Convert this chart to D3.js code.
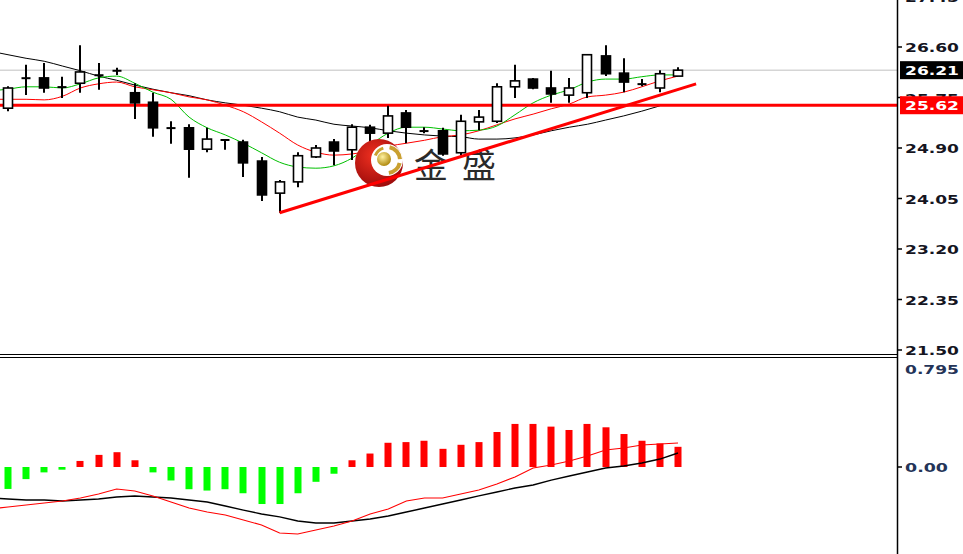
<!DOCTYPE html>
<html><head><meta charset="utf-8">
<script src="https://cdn.jsdelivr.net/npm/d3@7"></script>
<style>body{margin:0;background:#fff;overflow:hidden}svg{display:block}</style>
</head><body><svg id="c" width="963" height="554"></svg>
<script>
// ---- data ----
const opens  = [25.57,26.08,26.08,25.93,25.99,26.13,26.19,25.83,25.67,25.24,25.24,24.88,25.04,25.00,24.68,24.14,24.33,24.75,25.00,24.87,25.25,25.15,25.49,25.19,25.19,24.82,25.34,25.35,25.93,26.06,25.91,25.79,25.83,26.45,26.16,25.99,25.91,26.11];
const highs  = [25.94,26.30,26.33,26.10,26.63,26.33,26.25,25.99,25.83,25.35,25.30,25.24,25.05,25.04,24.75,24.36,24.83,24.95,25.05,25.30,25.29,25.61,25.54,25.25,25.24,25.46,25.54,25.99,26.30,26.08,26.20,26.08,26.48,26.63,26.41,26.06,26.21,26.26];
const lows   = [25.52,25.79,25.83,25.74,25.83,25.88,26.13,25.39,25.09,24.97,24.40,24.83,24.87,24.41,24.01,23.81,24.24,24.73,24.61,24.70,24.87,25.07,24.98,25.15,24.77,24.78,25.20,25.32,25.74,25.89,25.66,25.66,25.74,26.11,25.84,25.94,25.84,26.11];
const closes = [25.91,26.07,25.91,25.92,26.18,26.12,26.21,25.66,25.24,25.23,24.88,25.05,25.03,24.65,24.11,24.33,24.77,24.90,24.85,25.25,25.15,25.44,25.25,25.18,24.80,25.35,25.42,25.93,26.03,25.91,25.81,25.91,26.47,26.15,26.01,25.96,26.15,26.21];
// indicator lines start one bar before the first visible candle (index -1)
const maFast = [25.86,25.89,25.93,25.93,25.91,25.98,26.08,26.11,25.99,25.84,25.72,25.42,25.24,25.12,24.98,24.82,24.66,24.58,24.56,24.60,24.73,24.95,25.15,25.25,25.25,25.22,25.19,25.20,25.27,25.46,25.66,25.79,25.88,26.01,26.06,26.06,26.10,26.13,26.13];
const maMid  = [25.72,25.72,25.72,25.71,25.77,25.91,25.98,26.01,25.93,25.88,25.83,25.76,25.71,25.62,25.51,25.34,25.15,24.95,24.83,24.78,24.80,24.85,24.93,24.98,25.03,25.09,25.12,25.19,25.29,25.39,25.47,25.56,25.64,25.76,25.79,25.84,25.93,26.03,26.11];
const maSlow = [26.53,26.47,26.41,26.36,26.28,26.20,26.11,26.04,25.96,25.89,25.83,25.78,25.71,25.66,25.62,25.57,25.51,25.42,25.37,25.30,25.27,25.24,25.19,25.15,25.12,25.10,25.09,25.05,25.05,25.07,25.12,25.19,25.25,25.30,25.37,25.44,25.52,25.61,null];
const macdHist = [-0.163,-0.09,-0.04,-0.02,0.045,0.09,0.11,0.05,-0.04,-0.10,-0.165,-0.175,-0.165,-0.195,-0.275,-0.275,-0.195,-0.11,-0.05,0.05,0.10,0.18,0.185,0.195,0.135,0.165,0.185,0.26,0.32,0.32,0.30,0.275,0.32,0.295,0.245,0.195,0.175,0.15];
const macdMain = [-0.230,-0.238,-0.245,-0.245,-0.253,-0.245,-0.238,-0.223,-0.215,-0.223,-0.230,-0.245,-0.260,-0.290,-0.320,-0.349,-0.371,-0.401,-0.416,-0.416,-0.401,-0.386,-0.364,-0.334,-0.305,-0.275,-0.245,-0.215,-0.186,-0.156,-0.134,-0.097,-0.067,-0.037,-0.007,0.007,0.030,0.059,0.104];
const macdSignal = [-0.312,-0.297,-0.282,-0.267,-0.253,-0.230,-0.201,-0.163,-0.178,-0.215,-0.260,-0.305,-0.334,-0.357,-0.394,-0.431,-0.490,-0.498,-0.468,-0.438,-0.401,-0.349,-0.312,-0.253,-0.230,-0.230,-0.201,-0.171,-0.126,-0.074,-0.007,0.015,0.045,0.082,0.126,0.141,0.163,0.171,0.178];
const priceTicks = [27.45,26.60,25.75,24.90,24.05,23.20,22.35,21.50];
const macdTicks = [0.795,0.00];
const lastPrice = 26.21;
const supportLevel = 25.62;
const trendIdx = [15,38];
const trendPrice = [23.81,25.98];
const watermark = "金 盛";

// ---- drawing ----
const svg = d3.select("#c");
const axisX = 897;
const n = closes.length;
const x = d3.scaleLinear().domain([0, n-1]).range([8, 678]);
const y = d3.scaleLinear().domain([21.50, 26.60]).range([350, 47]);
const ym = d3.scaleLinear().domain([0, 0.795]).range([467, 360]);
const fmt = d3.format(".2f");

const defs = svg.append("defs");
defs.append("clipPath").attr("id","mainClip").append("rect").attr("x",0).attr("y",0).attr("width",axisX).attr("height",354);
defs.append("clipPath").attr("id","macdClip").append("rect").attr("x",0).attr("y",358).attr("width",axisX).attr("height",196);
const rg = defs.append("radialGradient").attr("id","redG").attr("cx","40%").attr("cy","35%").attr("r","70%");
rg.append("stop").attr("offset","0%").attr("stop-color","#f03020");
rg.append("stop").attr("offset","100%").attr("stop-color","#9a0a0a");
const gg = defs.append("radialGradient").attr("id","goldG").attr("cx","40%").attr("cy","35%").attr("r","65%");
gg.append("stop").attr("offset","0%").attr("stop-color","#fff2a0");
gg.append("stop").attr("offset","100%").attr("stop-color","#b08a10");

const main = svg.append("g").attr("clip-path","url(#mainClip)");

// last price grey line
main.append("line").attr("x1",0).attr("x2",axisX).attr("y1",y(lastPrice)).attr("y2",y(lastPrice))
  .attr("stroke","#c0c0c0").attr("stroke-width",1);

// moving averages (index offset -1)
function maLine(arr, color, w){
  const ln = d3.line().defined(d=>d!=null).x((d,i)=>x(i-1)).y(d=>y(d)).curve(d3.curveMonotoneX);
  main.append("path").datum(arr).attr("d", ln).attr("fill","none").attr("stroke",color).attr("stroke-width",w);
}
maLine(maSlow, "#000000", 1);
maLine(maMid, "#ff0000", 1);
maLine(maFast, "#00c000", 1);

// support line
main.append("line").attr("x1",0).attr("x2",axisX).attr("y1",y(supportLevel)).attr("y2",y(supportLevel))
  .attr("stroke","#ff0000").attr("stroke-width",3);

// candles
const bw = 9;
const cg = main.append("g");
d3.range(n).forEach(i=>{
  const cx = Math.round(x(i));
  cg.append("line").attr("x1",cx).attr("x2",cx).attr("y1",y(highs[i])).attr("y2",y(lows[i]))
    .attr("stroke","#000").attr("stroke-width",2);
  const top = y(Math.max(opens[i],closes[i])), bot = y(Math.min(opens[i],closes[i]));
  if (bot-top < 2){
    cg.append("line").attr("x1",cx-bw/2).attr("x2",cx+bw/2).attr("y1",(top+bot)/2).attr("y2",(top+bot)/2)
      .attr("stroke","#000").attr("stroke-width",2);
  } else {
    cg.append("rect").attr("x",cx-bw/2).attr("y",top).attr("width",bw).attr("height",bot-top)
      .attr("fill", closes[i]>=opens[i] ? "#fff" : "#000").attr("stroke","#000").attr("stroke-width",1.6);
  }
});

// watermark logo
const logo = main.append("g");
logo.append("circle").attr("cx",379).attr("cy",163).attr("r",24).attr("fill","url(#redG)");
logo.append("circle").attr("cx",387).attr("cy",160).attr("r",16).attr("fill","#fff");
const arc = d3.arc();
logo.append("path").attr("transform","translate(387,160)")
  .attr("d", arc({innerRadius:11,outerRadius:15,startAngle:0.2,endAngle:1.5})).attr("fill","#c9a030");
logo.append("path").attr("transform","translate(387,160)")
  .attr("d", arc({innerRadius:11,outerRadius:15,startAngle:1.8,endAngle:3.0})).attr("fill","#c9a030");
logo.append("path").attr("transform","translate(387,160)")
  .attr("d", arc({innerRadius:11,outerRadius:14,startAngle:-1.2,endAngle:-0.3})).attr("fill","#c9a030");
logo.append("circle").attr("cx",384).attr("cy",159).attr("r",7).attr("fill","url(#goldG)");
logo.append("text").attr("x",414).attr("y",178).attr("font-family","'Noto Sans CJK SC'").attr("font-size",34)
  .attr("fill","#2a2a2a").attr("xml:space","preserve").attr("textLength",82).attr("lengthAdjust","spacing").text(watermark);

// trend line
main.append("line").attr("x1",x(trendIdx[0])).attr("y1",y(trendPrice[0])).attr("x2",x(trendIdx[1])).attr("y2",y(trendPrice[1]))
  .attr("stroke","#ff0000").attr("stroke-width",3);

// separator
svg.append("line").attr("x1",0).attr("x2",axisX).attr("y1",354.5).attr("y2",354.5).attr("stroke","#000").attr("stroke-width",1);
svg.append("line").attr("x1",0).attr("x2",axisX).attr("y1",357.5).attr("y2",357.5).attr("stroke","#000").attr("stroke-width",1);

// MACD panel
const mg = svg.append("g").attr("clip-path","url(#macdClip)");
d3.range(n).forEach(i=>{
  const v = macdHist[i];
  mg.append("rect").attr("x",Math.round(x(i))-3.5).attr("width",7)
    .attr("y", Math.min(ym(0), ym(v))).attr("height", Math.abs(ym(v)-ym(0)))
    .attr("fill", v>=0 ? "#ff0000" : "#00ff00");
});
const ml = d3.line().x((d,i)=>x(i-1)).y(d=>ym(d));
mg.append("path").datum(macdMain).attr("d",ml).attr("fill","none").attr("stroke","#000").attr("stroke-width",1.4);
mg.append("path").datum(macdSignal).attr("d",ml).attr("fill","none").attr("stroke","#ff0000").attr("stroke-width",1.1);

// right axis
svg.append("line").attr("x1",axisX+0.5).attr("x2",axisX+0.5).attr("y1",0).attr("y2",554).attr("stroke","#000").attr("stroke-width",1.5);
const ag = svg.append("g").attr("font-family","'DejaVu Sans', Verdana, sans-serif").attr("font-weight","bold").attr("font-size",12.5);
priceTicks.forEach(t=>{
  const ty = y(t);
  ag.append("line").attr("x1",axisX).attr("x2",axisX+5).attr("y1",ty).attr("y2",ty).attr("stroke","#000").attr("stroke-width",1.5);
  ag.append("text").attr("x",905).attr("y",ty+5).attr("fill","#15151f").attr("textLength",54).attr("lengthAdjust","spacingAndGlyphs").text(fmt(t));
});
macdTicks.forEach(t=>{
  const ty = t===0 ? ym(t) : 369;
  if (t===0) ag.append("line").attr("x1",axisX).attr("x2",axisX+5).attr("y1",ty).attr("y2",ty).attr("stroke","#000").attr("stroke-width",1.5);
  const s = t===0 ? "0.00" : String(t);
  ag.append("text").attr("x",905).attr("y",ty+5).attr("fill","#243458").attr("textLength", s.length*11-1).attr("lengthAdjust","spacingAndGlyphs").text(s);
});
// price labels
function priceBox(v, bg){
  const ty = y(v);
  ag.append("rect").attr("x",900).attr("y",ty-9).attr("width",63).attr("height",18).attr("fill",bg);
  ag.append("text").attr("x",905).attr("y",ty+5).attr("fill","#fff").attr("textLength",54).attr("lengthAdjust","spacingAndGlyphs").text(fmt(v));
}
priceBox(lastPrice, "#000");
priceBox(supportLevel, "#ff0000");
</script></body></html>
